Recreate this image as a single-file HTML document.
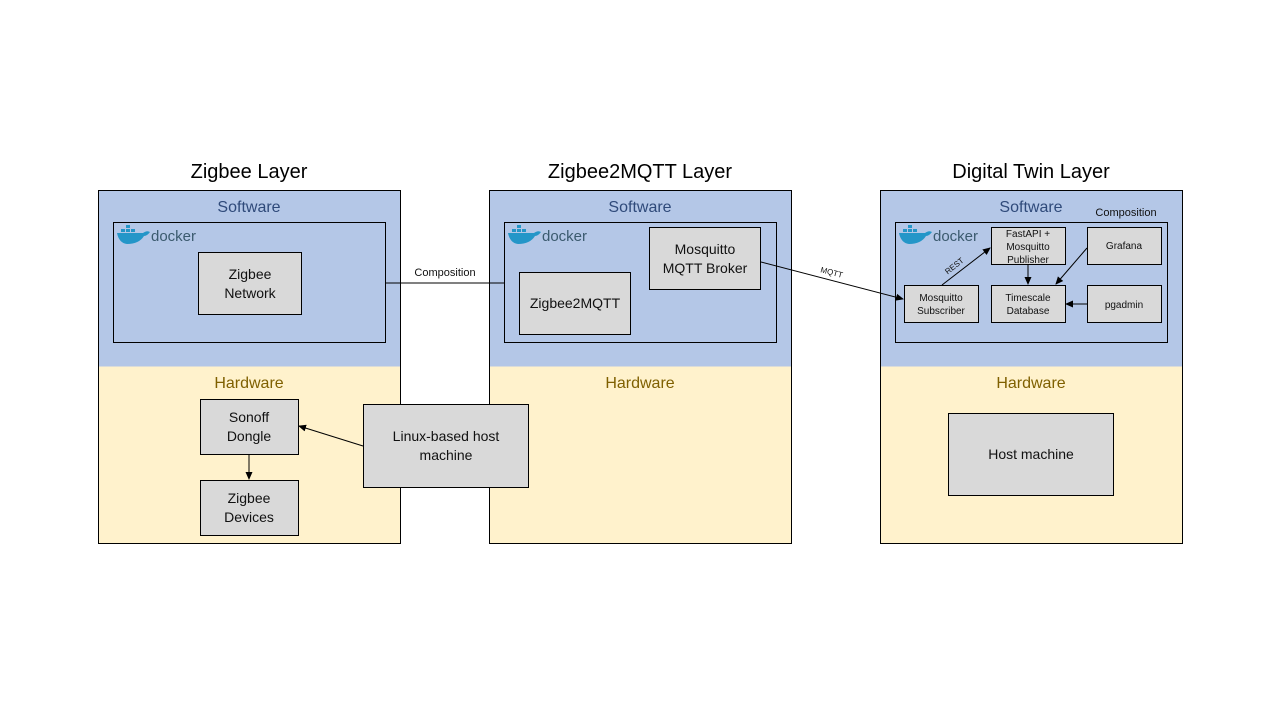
<!DOCTYPE html>
<html><head><meta charset="utf-8"><style>
html,body{margin:0;padding:0;background:#fff;}
svg{display:block;font-family:"Liberation Sans",sans-serif;}
</style></head><body>
<svg width="1280" height="720" viewBox="0 0 1280 720" xmlns="http://www.w3.org/2000/svg">
<defs>
<marker id="a" markerWidth="8" markerHeight="8" refX="7" refY="4" orient="auto" markerUnits="userSpaceOnUse">
<path d="M0,0.5 L8,4 L0,7.5 z" fill="#000"/></marker>
<g id="dk">
<rect x="4" y="5" width="4" height="3" fill="#2496c8"/><rect x="9" y="5" width="4" height="3" fill="#2496c8"/><rect x="9" y="1" width="4" height="3" fill="#2496c8"/>
<rect x="14" y="5" width="4" height="3" fill="#2496c8"/>
<path d="M0,9 L26,9 Q30,6 33,8 Q30,12 27,12 Q22,20 10,20 Q2,19 0,9z" fill="#2496c8"/>
<text x="34" y="17" font-size="15" fill="#3b5a6e">docker</text>
</g>
</defs>
<g font-size="20" fill="#000" text-anchor="middle">
<text x="249" y="178">Zigbee Layer</text>
<text x="640" y="178">Zigbee2MQTT Layer</text>
<text x="1031" y="178">Digital Twin Layer</text>
</g>
<!-- columns -->
<g stroke="#000" stroke-width="1">
<rect x="98.5" y="190.5" width="302" height="176" fill="#B4C7E7" stroke="none"/>
<rect x="98.5" y="366.5" width="302" height="177" fill="#FFF2CC" stroke="none"/>
<rect x="98.5" y="190.5" width="302" height="353" fill="none"/>
<rect x="489.5" y="190.5" width="302" height="176" fill="#B4C7E7" stroke="none"/>
<rect x="489.5" y="366.5" width="302" height="177" fill="#FFF2CC" stroke="none"/>
<rect x="489.5" y="190.5" width="302" height="353" fill="none"/>
<rect x="880.5" y="190.5" width="302" height="176" fill="#B4C7E7" stroke="none"/>
<rect x="880.5" y="366.5" width="302" height="177" fill="#FFF2CC" stroke="none"/>
<rect x="880.5" y="190.5" width="302" height="353" fill="none"/>
</g>
<g font-size="16" text-anchor="middle">
<text x="249" y="212" fill="#2F4A7A">Software</text>
<text x="640" y="212" fill="#2F4A7A">Software</text>
<text x="1031" y="212" fill="#2F4A7A">Software</text>
<text x="249" y="388" fill="#7F6000">Hardware</text>
<text x="640" y="388" fill="#7F6000">Hardware</text>
<text x="1031" y="388" fill="#7F6000">Hardware</text>
</g>
<!-- docker boxes -->
<g fill="none" stroke="#000">
<rect x="113.5" y="222.5" width="272" height="120"/>
<rect x="504.5" y="222.5" width="272" height="120"/>
<rect x="895.5" y="222.5" width="272" height="120"/>
</g>
<use href="#dk" x="117" y="224"/>
<use href="#dk" x="508" y="224"/>
<use href="#dk" x="899" y="224"/>
<!-- nodes -->
<g fill="#D9D9D9" stroke="#000">
<rect x="198.5" y="252.5" width="103" height="62"/>
<rect x="519.5" y="272.5" width="111" height="62"/>
<rect x="649.5" y="227.5" width="111" height="62"/>
<rect x="991.5" y="227.5" width="74" height="37"/>
<rect x="1087.5" y="227.5" width="74" height="37"/>
<rect x="904.5" y="285.5" width="74" height="37"/>
<rect x="991.5" y="285.5" width="74" height="37"/>
<rect x="1087.5" y="285.5" width="74" height="37"/>
<rect x="200.5" y="399.5" width="98" height="55"/>
<rect x="200.5" y="480.5" width="98" height="55"/>
<rect x="363.5" y="404.5" width="165" height="83"/>
<rect x="948.5" y="413.5" width="165" height="82"/>
</g>
<g font-size="14" text-anchor="middle" fill="#111">
<text x="250" y="279">Zigbee</text><text x="250" y="298">Network</text>
<text x="575" y="308">Zigbee2MQTT</text>
<text x="705" y="254">Mosquitto</text><text x="705" y="273">MQTT Broker</text>
<text x="249" y="422">Sonoff</text><text x="249" y="441">Dongle</text>
<text x="249" y="503">Zigbee</text><text x="249" y="522">Devices</text>
<text x="446" y="441">Linux-based host</text><text x="446" y="460">machine</text>
<text x="1031" y="459">Host machine</text>
</g>
<g font-size="10" text-anchor="middle" fill="#111">
<text x="1028" y="237">FastAPI +</text><text x="1028" y="250">Mosquitto</text><text x="1028" y="263">Publisher</text>
<text x="1124" y="249">Grafana</text>
<text x="941" y="301">Mosquitto</text><text x="941" y="314">Subscriber</text>
<text x="1028" y="301">Timescale</text><text x="1028" y="314">Database</text>
<text x="1124" y="308">pgadmin</text>
<text x="1126" y="216" font-size="11">Composition</text>
<text x="445" y="276" font-size="11">Composition</text>
<text x="0" y="0" font-size="8" transform="translate(831,275) rotate(15)">MQTT</text>
<text x="0" y="0" font-size="8" transform="translate(956,268) rotate(-38)">REST</text>
</g>
<!-- connectors -->
<g stroke="#000" stroke-width="1" fill="none">
<line x1="386" y1="283" x2="504" y2="283"/>
<line x1="761" y1="262" x2="903" y2="299" marker-end="url(#a)"/>
<line x1="942" y1="285" x2="990" y2="248" marker-end="url(#a)"/>
<line x1="1028" y1="265" x2="1028" y2="284" marker-end="url(#a)"/>
<line x1="1087" y1="248" x2="1056" y2="284" marker-end="url(#a)"/>
<line x1="1087" y1="304" x2="1066" y2="304" marker-end="url(#a)"/>
<line x1="363" y1="446" x2="299" y2="426" marker-end="url(#a)"/>
<line x1="249" y1="455" x2="249" y2="479" marker-end="url(#a)"/>
</g>
</svg>
</body></html>
